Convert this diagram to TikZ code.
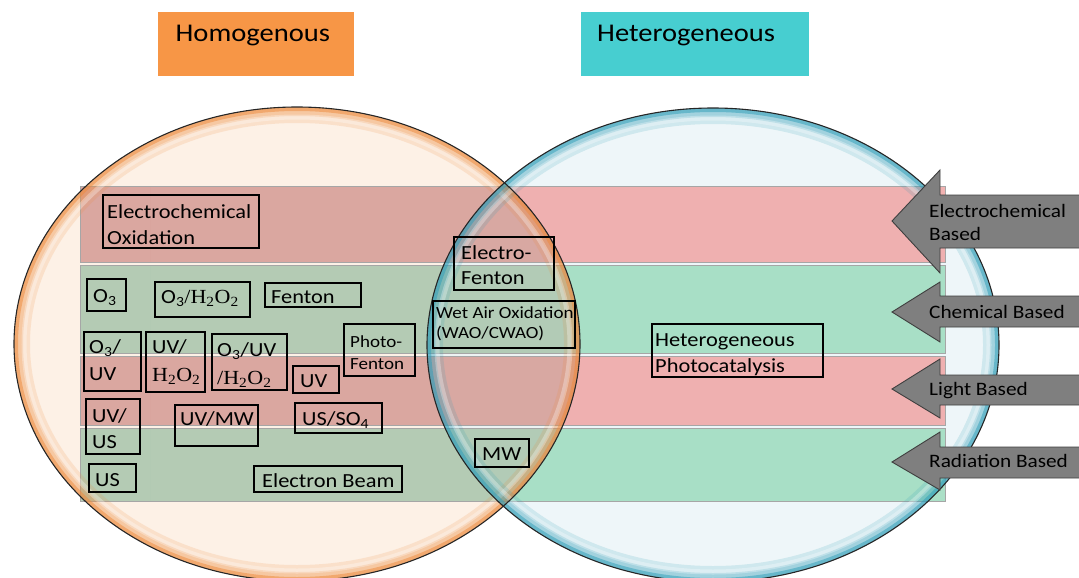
\documentclass[tikz,border=0pt]{standalone}
\usepackage{fontspec}
\setmainfont{Carlito}[FakeStretch=1.12]
\newfontfamily\serifH{Liberation Serif}[FakeStretch=1.1]
\definecolor{homog}{HTML}{F79646}
\definecolor{heterog}{HTML}{47CED0}
\definecolor{lfill}{HTML}{FDF1E6}
\definecolor{rfill}{HTML}{EAF4F7}
\definecolor{lrim}{HTML}{EE8A3C}
\definecolor{rrim}{HTML}{2E9DB8}
\definecolor{pinkL}{HTML}{D59B94}
\definecolor{greenL}{HTML}{A8C5AC}
\definecolor{pinkR}{HTML}{EFA4A3}
\definecolor{greenR}{HTML}{9CDBBD}
\definecolor{argray}{HTML}{7F7F7F}
\definecolor{aredge}{HTML}{3F3F3F}
\newcommand\HHOO{{\serifH H\textsubscript{2}O\textsubscript{2}}}
\newcommand\Lell{(297,344) ellipse [x radius=283, y radius=237]}
\newcommand\Rell{(713,345) ellipse [x radius=286, y radius=237]}
\newcommand\bands[2]{%
  \fill[#1, fill opacity=.85] (80,186) rectangle (945,262);
  \fill[#2, fill opacity=.85] (80,265) rectangle (945,353);
  \fill[#1, fill opacity=.85] (80,356) rectangle (945,425);
  \fill[#2, fill opacity=.85] (80,428) rectangle (945,501);}
\newcommand\bxat[5]{\node[bx, minimum width={#4-#2}, minimum height={#5-#3}] (#1) at ({(#2+#4)/2},{(#3+#5)/2}) {};}
\newcommand\larrow[6]{\draw[ar] (892,#2) -- (940,#3) -- (940,#5) -- (1090,#5) -- (1090,#6) -- (940,#6) -- (940,#4) -- cycle;}
\tikzset{
  bx/.style={draw=black, line width=2.2pt, inner sep=0pt, outer sep=0pt},
  tx/.style={anchor=base west, inner sep=0pt, text=black, font=\fontsize{20}{24}\selectfont},
  sm/.style={tx, font=\fontsize{17}{20}\selectfont},
  arrtxt/.style={tx, font=\fontsize{19}{22}\selectfont},
  hd/.style={tx, font=\fontsize{25.5}{30}\selectfont},
  ar/.style={fill=argray, draw=aredge, line width=0.9pt, line join=miter},
  bandedge/.style={draw=black!35, line width=0.6pt},
}
\begin{document}
\begin{tikzpicture}[x=1pt,y=-1pt]
\useasboundingbox (0,0) rectangle (1079,578);
% top labels
\node[fill=homog, minimum width=196, minimum height=64, inner sep=0pt] (homogbox) at (256,44) {};
\node[fill=heterog, minimum width=228, minimum height=64, inner sep=0pt] (heterobox) at (695,44) {};
\node[hd] (homogtxt) at (175.5,42) {Homogenous};
\node[hd] (heterotxt) at (597,42) {Heterogeneous};
% circles
\fill[lfill] \Lell;
\fill[rfill, fill opacity=.8] \Rell;
% bands: right colours outside left circle
\begin{scope}
  \clip (150,0) rectangle (1100,600);
  \begin{scope}[even odd rule]
    \clip (-10,-10) rectangle (1100,600) \Lell;
    \bands{pinkR}{greenR}
  \end{scope}
\end{scope}
\begin{scope}
  \clip \Lell;
  \bands{pinkL}{greenL}
\end{scope}
\begin{scope}
  \clip (0,0) rectangle (150,578);
  \begin{scope}[even odd rule]
    \clip (0,0) rectangle (150,578) \Lell;
    \bands{pinkL}{greenL}
  \end{scope}
\end{scope}
\draw[bandedge] (80,186) rectangle (945,262);
\draw[bandedge] (80,265) rectangle (945,353);
\draw[bandedge] (80,356) rectangle (945,425);
\draw[bandedge] (80,428) rectangle (945,501);
% rims
\begin{scope}
  \clip \Lell;
  \draw[lrim, line width=32pt, draw opacity=.16] \Lell;
  \draw[lrim, line width=18pt, draw opacity=.28] \Lell;
  \draw[lrim, line width=8pt, draw opacity=.5] \Lell;
  \draw[white, line width=5pt, draw opacity=.3] (297,344) ellipse [x radius=273, y radius=227];
\end{scope}
\begin{scope}
  \clip \Rell;
  \draw[rrim, line width=32pt, draw opacity=.16] \Rell;
  \draw[rrim, line width=18pt, draw opacity=.28] \Rell;
  \draw[rrim, line width=8pt, draw opacity=.5] \Rell;
  \draw[white, line width=5pt, draw opacity=.3] (713,345) ellipse [x radius=276, y radius=227];
\end{scope}
\draw[black!85, line width=1.1pt] \Lell;
\draw[black!85, line width=1.1pt] \Rell;
% boxes
\bxat{eo}{103}{195}{259}{248}
\bxat{othree}{87}{279}{126}{311}
\bxat{othp}{155}{282}{250}{317}
\bxat{fen}{265}{283}{361}{307}
\bxat{ouv}{84}{332}{141}{391}
\bxat{uvh}{146}{332}{205}{392}
\bxat{ouvh}{212}{334}{287}{390}
\bxat{uv}{293}{366}{339}{393}
\bxat{pf}{344}{324}{415}{376}
\bxat{uvus}{86}{399}{140}{454}
\bxat{uvmw}{175}{405}{258}{446}
\bxat{usso}{295}{403}{382}{433}
\bxat{us}{89}{464}{136}{492}
\bxat{eb}{254}{466}{402}{492}
\bxat{ef}{454}{237}{554}{290}
\bxat{wao}{433}{301}{575}{348}
\bxat{mw}{475}{439}{529}{467}
\bxat{hp}{652}{324}{823}{377}
% box texts
\node[tx] (eoa) at (107,218) {Electrochemical};
\node[tx] (eob) at (107,244) {Oxidation};
\node[tx] (othreet) at (93,302) {O\textsubscript{3}};
\node[tx] (othpt) at (161,303) {O\textsubscript{3}{\serifH/}\HHOO};
\node[tx] (fent) at (271,303) {Fenton};
\node[tx] (ouva) at (89,353) {O\textsubscript{3}/};
\node[tx] (ouvb) at (89,380) {UV};
\node[tx] (uvha) at (152,353) {UV/};
\node[tx] (uvhb) at (152,381) {\HHOO};
\node[tx] (ouvha) at (217,356) {O\textsubscript{3}/UV};
\node[tx] (ouvhb) at (217,384) {{\serifH/}\HHOO};
\node[tx] (uvt) at (300,387) {UV};
\node[sm] (pfa) at (350,347) {Photo-};
\node[sm] (pfb) at (350,369) {Fenton};
\node[tx] (uvusa) at (92,422) {UV/};
\node[tx] (uvusb) at (92,448) {US};
\node[tx] (uvmwt) at (180,425) {UV/MW};
\node[tx] (ussot) at (302,425) {US/SO\textsubscript{4}};
\node[tx] (ust) at (95,486) {US};
\node[tx] (ebt) at (262,487) {Electron Beam};
\node[tx] (efa) at (461,259) {Electro-};
\node[tx] (efb) at (461,284) {Fenton};
\node[sm] (waoa) at (436,318) {Wet Air Oxidation};
\node[sm] (waob) at (436,338) {(WAO/CWAO)};
\node[tx] (mwt) at (482,460) {MW};
\node[tx] (hpa) at (655,346) {Heterogeneous};
\node[tx] (hpb) at (655,372) {Photocatalysis};
% arrows
\larrow{a1}{221}{170}{273}{195}{248}
\larrow{a2}{312}{282}{342}{296}{327}
\larrow{a3}{389}{359}{418}{375}{405}
\larrow{a4}{462}{432}{490}{447}{478}
\node[arrtxt] (a1a) at (929,217) {Electrochemical};
\node[arrtxt] (a1b) at (929,240) {Based};
\node[arrtxt] (a2t) at (929,318) {Chemical Based};
\node[arrtxt] (a3t) at (929,395) {Light Based};
\node[arrtxt] (a4t) at (929,467) {Radiation Based};
\end{tikzpicture}
\end{document}
